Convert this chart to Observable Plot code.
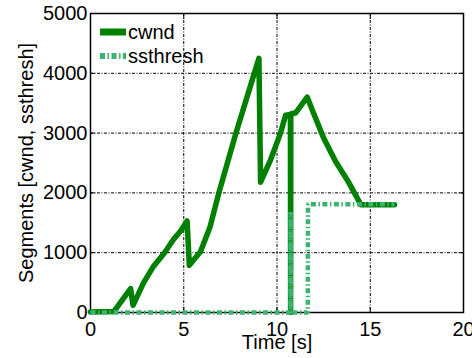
<!DOCTYPE html>
<html>
<head>
<meta charset="utf-8">
<script src="https://cdn.jsdelivr.net/npm/d3@7"></script>
<script src="https://cdn.jsdelivr.net/npm/@observablehq/plot@0.6"></script>
<style>
  html, body { margin: 0; padding: 0; background: #fff; }
  #chart { position: relative; width: 472px; height: 358px; }
  #chart svg.legend { position: absolute; left: 0; top: 0; pointer-events: none; }
</style>
</head>
<body>
<div id="chart"></div>
<script>
// Congestion window trace (segments) over time (seconds)
const cwndTime     = [0, 1.25, 2.15, 2.28, 2.85, 3.35, 3.95, 4.45, 4.85, 5.18, 5.3, 5.9, 6.4, 6.88, 7.8, 9.03, 9.12, 9.65, 10.19, 10.46, 10.72, 10.73, 10.74, 11.0, 11.62, 11.98, 12.5, 13.15, 13.8, 14.5, 16.3];
const cwndSegments = [10, 15, 400, 120, 500, 760, 990, 1220, 1370, 1530, 790, 1020, 1420, 2000, 3000, 4250, 2180, 2550, 3000, 3300, 3310, 0, 3320, 3340, 3600, 3320, 2920, 2520, 2200, 1800, 1800];

// Slow-start threshold trace
const ssthreshTime     = [0, 10.72, 10.73, 10.74, 11.65, 11.66, 16.3];
const ssthreshSegments = [0, 0, 1680, 0, 0, 1810, 1810];

const xTicks = [0, 5, 10, 15, 20];
const yTicks = [0, 1000, 2000, 3000, 4000, 5000];

const seriesNames = ["cwnd", "ssthresh"];
const seriesColors = ["#008000", "#3cb371"];

const font = "'Liberation Sans', Arial, Helvetica, sans-serif";
const gridDash = "3,1.5,1,1.5";
const ssthreshDash = "5,2.5,1.5,2.5";

const cwnd = cwndTime.map((t, i) => ({t, v: cwndSegments[i]}));
const ssthresh = ssthreshTime.map((t, i) => ({t, v: ssthreshSegments[i]}));

const chart = Plot.plot({
  width: 472,
  height: 358,
  marginLeft: 90,
  marginRight: 9,
  marginTop: 13,
  marginBottom: 46,
  style: {fontFamily: font, fontSize: "20px", background: "#fff", color: "#000", overflow: "visible"},
  x: {domain: [0, 20]},
  y: {domain: [0, 5000]},
  marks: [
    Plot.gridX(xTicks.slice(1, -1), {stroke: "#000", strokeOpacity: 1, strokeWidth: 1, strokeDasharray: gridDash}),
    Plot.gridY(yTicks.slice(1, -1), {stroke: "#000", strokeOpacity: 1, strokeWidth: 1, strokeDasharray: gridDash}),
    Plot.axisX(xTicks, {tickSize: 0, tickPadding: 9, fontSize: 20, tickFormat: d3.format("d"), label: null}),
    Plot.axisY(yTicks, {tickSize: 0, tickPadding: 3, fontSize: 20, tickFormat: d3.format("d"), label: null}),
    // inward tick marks on all four sides
    Plot.axisX(xTicks, {anchor: "bottom", tickSize: 5, dy: -5, tickFormat: () => "", label: null}),
    Plot.axisX(xTicks, {anchor: "top", tickSize: 5, dy: 5, tickFormat: () => "", label: null}),
    Plot.axisY(yTicks, {anchor: "left", tickSize: 5, dx: 5, tickFormat: () => "", label: null}),
    Plot.axisY(yTicks, {anchor: "right", tickSize: 5, dx: -5, tickFormat: () => "", label: null}),
    Plot.frame({stroke: "#000", strokeWidth: 1.5}),
    Plot.line(cwnd, {x: "t", y: "v", stroke: seriesColors[0], strokeWidth: 5.5}),
    Plot.line(ssthresh, {x: "t", y: "v", stroke: seriesColors[1], strokeWidth: 4.5, strokeLinecap: "butt", strokeLinejoin: "miter", strokeDasharray: ssthreshDash}),
    Plot.text(["Time [s]"], {frameAnchor: "bottom", dy: 36, fontSize: 20, fill: "#000"}),
    Plot.text(["Segments [cwnd, ssthresh]"], {frameAnchor: "left", dx: -64, rotate: -90, textAnchor: "middle", fontSize: 20, fill: "#000"})
  ]
});

const container = document.getElementById("chart");
container.appendChild(chart);

// Legend in the upper-left corner of the frame
const legend = d3.select(container).append("svg")
  .attr("class", "legend")
  .attr("width", 472)
  .attr("height", 358)
  .attr("font-family", font)
  .attr("font-size", 20);
seriesNames.forEach((name, i) => {
  const y = 32 + i * 24;
  legend.append("line")
    .attr("x1", 100).attr("x2", 126)
    .attr("y1", y).attr("y2", y)
    .attr("stroke", seriesColors[i])
    .attr("stroke-width", i === 0 ? 7 : 6)
    .attr("stroke-dasharray", i === 0 ? null : ssthreshDash);
  legend.append("text")
    .attr("x", 128).attr("y", y + 6.5)
    .attr("fill", "#000")
    .text(name);
});
</script>
</body>
</html>
